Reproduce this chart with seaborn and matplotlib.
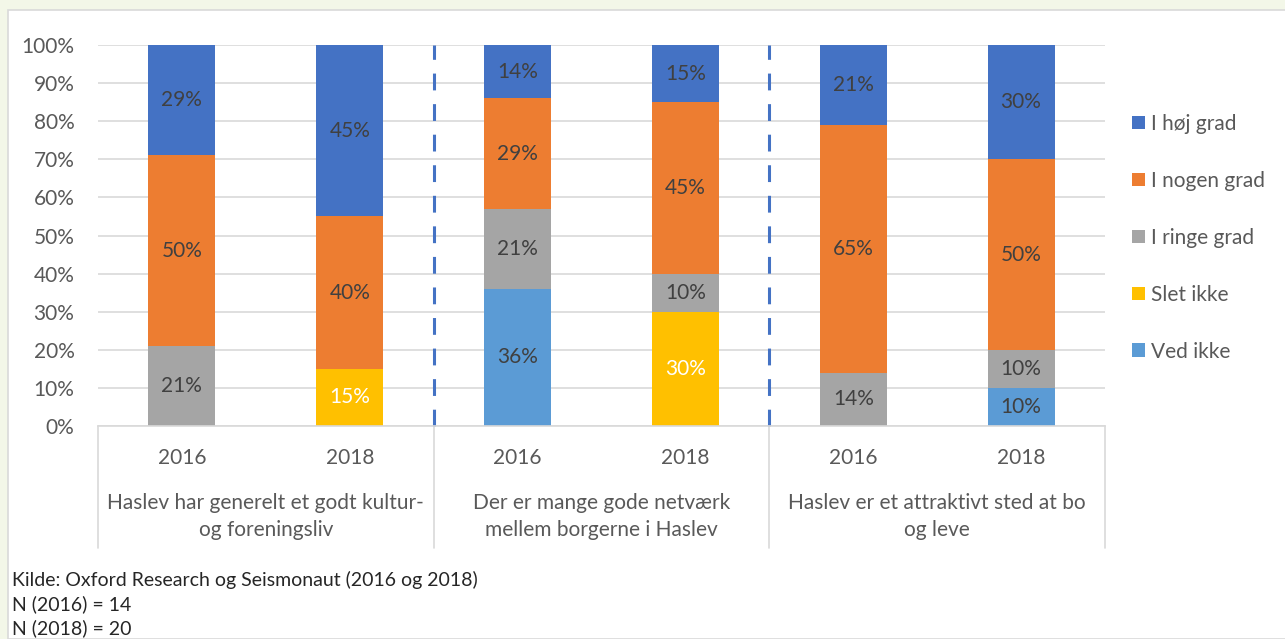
import matplotlib
matplotlib.use("Agg")
import matplotlib.pyplot as plt
import matplotlib.transforms as mtransforms
from matplotlib.patches import Rectangle
import numpy as np
import pandas as pd
import seaborn as sns

# ---- data ----
groups = ["Haslev har generelt et godt kultur-\nog foreningsliv",
          "Der er mange gode netværk\nmellem borgerne i Haslev",
          "Haslev er et attraktivt sted at bo\nog leve"]
years = ["2016", "2018"]
series = ["I høj grad", "I nogen grad", "I ringe grad", "Slet ikke", "Ved ikke"]
# values per bar (G1-2016, G1-2018, G2-2016, G2-2018, G3-2016, G3-2018)
hoej_grad = [29, 45, 14, 15, 21, 30]
nogen_grad = [50, 40, 29, 45, 65, 50]
ringe_grad = [21, 0, 21, 10, 14, 10]
slet_ikke = [0, 15, 0, 30, 0, 0]
ved_ikke = [0, 0, 36, 0, 0, 10]
footer = ["Kilde: Oxford Research og Seismonaut (2016 og 2018)",
          "N (2016) = 14",
          "N (2018) = 20"]

colors = ["#4472C4", "#ED7D31", "#A5A5A5", "#FFC000", "#5B9BD5"]
label_colors = ["#404040", "#404040", "#404040", "#FFFFFF", "#404040"]

sns.set_theme(style="white")
plt.rcParams["font.family"] = ["Lato", "DejaVu Sans"]
FS = 15

bars = [f"{g}|{y}" for g in range(len(groups)) for y in years]
# stacking order bottom -> top
stack = [ved_ikke, slet_ikke, ringe_grad, nogen_grad, hoej_grad]
stack_names = series[::-1]
stack_colors = colors[::-1]
stack_lcolors = label_colors[::-1]
cum = np.cumsum(np.array(stack, dtype=float), axis=0)

fig = plt.figure(figsize=(12.85, 6.39), dpi=100)
fig.patch.set_facecolor("#F3F7E8")
fig.patches.append(Rectangle((8 / 1285, 0), 1 - 8 / 1285 + 0.01, 1 - 10 / 639,
                             transform=fig.transFigure, facecolor="white",
                             edgecolor="#D9D9D9", linewidth=1.2, zorder=-10))

ax = fig.add_axes([98 / 1285, 1 - 426 / 639, (1105 - 98) / 1285, (426 - 45) / 639])
ax.set_facecolor("none")

# draw cumulative bars, top series first
for i in range(len(stack) - 1, -1, -1):
    df = pd.DataFrame({"bar": bars, "val": cum[i]})
    sns.barplot(data=df, x="bar", y="val", order=bars, color=stack_colors[i],
                width=0.4, saturation=1, linewidth=0, label=stack_names[i],
                ax=ax, zorder=3, errorbar=None)

# data labels
for i, vals in enumerate(stack):
    for j, v in enumerate(vals):
        if v > 0:
            ax.text(j, cum[i][j] - v / 2, f"{v}%", ha="center", va="center",
                    fontsize=FS, color=stack_lcolors[i], zorder=5)

ax.set_xlim(-0.5, len(bars) - 0.5)
ax.set_ylim(0, 100)
ax.set_yticks(np.arange(0, 101, 10))
ax.set_yticklabels([f"{t}%" for t in range(0, 101, 10)], fontsize=FS, color="#595959")
ax.set_xticks(range(len(bars)))
ax.set_xticklabels([y for g in groups for y in years], fontsize=FS, color="#595959")
ax.tick_params(axis="y", length=0, pad=17)
ax.tick_params(axis="x", length=0, pad=16)
ax.set_xlabel("")
ax.set_ylabel("")
ax.grid(axis="y", color="#D9D9D9", linewidth=1.2, zorder=0)
ax.set_axisbelow(True)
for s in ["left", "right", "top"]:
    ax.spines[s].set_visible(False)
ax.spines["bottom"].set_color("#D9D9D9")
ax.spines["bottom"].set_linewidth(1.2)
ax.spines["bottom"].set_zorder(4)

trans = mtransforms.blended_transform_factory(ax.transData, ax.transAxes)
# category separators
for xs in [-0.5, 1.5, 3.5, 5.5]:
    ax.plot([xs, xs], [0, -0.32], transform=trans, color="#D9D9D9", lw=1.2,
            clip_on=False, zorder=2)
# dashed group dividers
for xs in [1.5, 3.5]:
    ax.plot([xs, xs], [0, 100], color="#4472C4", lw=2.2, dashes=(5.5, 4.5),
            clip_on=False, zorder=4)
# group labels
for g, name in enumerate(groups):
    ax.text(2 * g + 0.5, -0.238, name, transform=trans, ha="center", va="center",
            fontsize=FS, color="#595959", linespacing=1.45)

# legend
handles, labels = ax.get_legend_handles_labels()
if ax.get_legend() is not None:
    ax.get_legend().remove()
order = [labels.index(s) for s in series]
fig.legend([handles[k] for k in order], [labels[k] for k in order],
           loc="upper left", bbox_to_anchor=(1132 / 1285, 1 - 114 / 639),
           bbox_transform=fig.transFigure, frameon=False, fontsize=FS,
           handlelength=0.62, handleheight=0.62, handletextpad=0.3,
           labelspacing=1.77, borderpad=0, borderaxespad=0, labelcolor="#595959")

# footer
for k, line in enumerate(footer):
    fig.text(12 / 1285, 1 - (580 + 24 * k) / 639, line, ha="left", va="center",
             fontsize=14, color="#262626")

fig.savefig("out.png", dpi=100, facecolor=fig.get_facecolor())
